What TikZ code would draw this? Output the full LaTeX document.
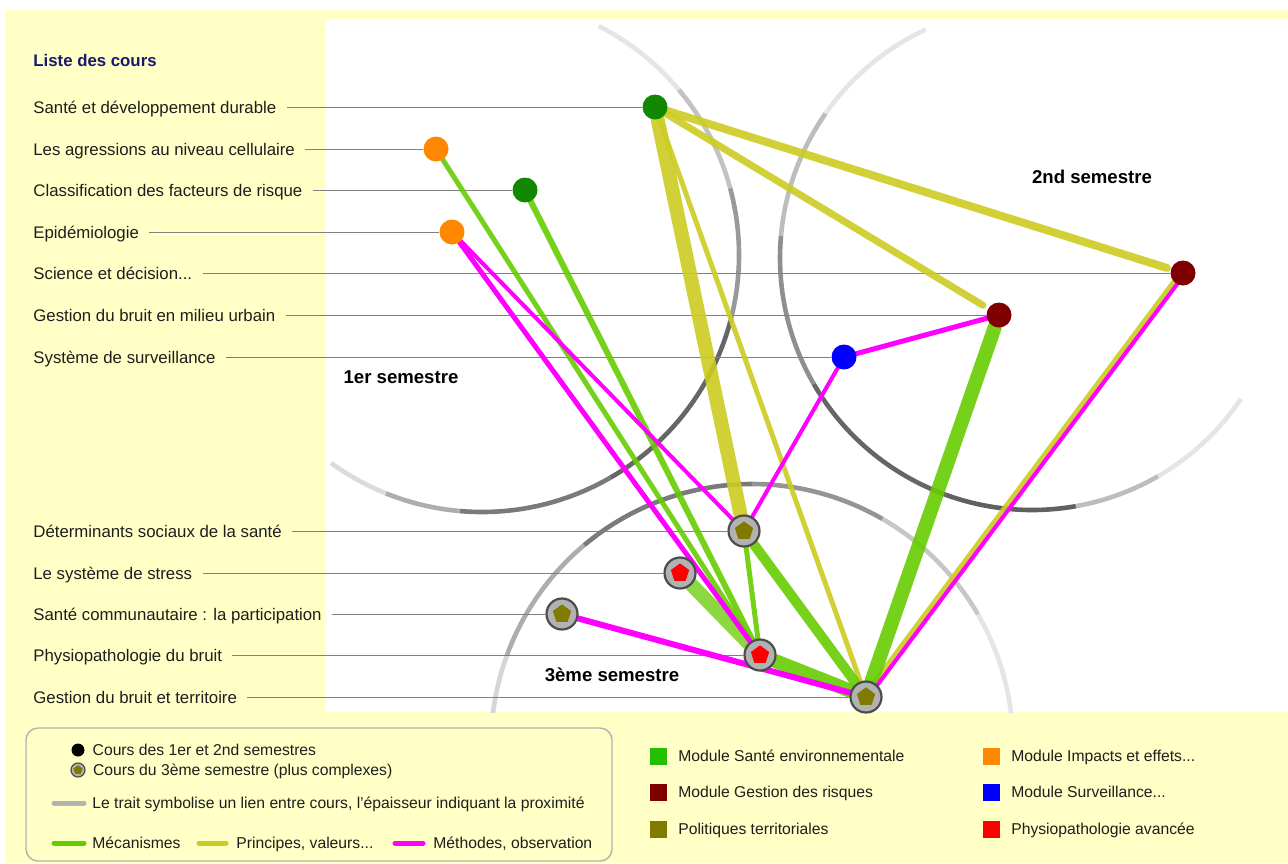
\documentclass[tikz,border=0pt]{standalone}
\usepackage{fontspec}
\setmainfont{Liberation Sans}
\usetikzlibrary{positioning}

\definecolor{paper}{RGB}{255,255,198}
\definecolor{titre}{RGB}{24,24,110}
\definecolor{txt}{RGB}{30,30,30}
\definecolor{vert}{RGB}{18,136,0}
\definecolor{vertclair}{RGB}{34,192,0}
\definecolor{bordeaux}{RGB}{128,0,0}
\definecolor{olivec}{RGB}{128,122,0}
\definecolor{impact}{RGB}{255,136,0}
\definecolor{survbleu}{RGB}{0,0,255}
\definecolor{physrouge}{RGB}{255,0,0}
\definecolor{lienmeca}{RGB}{102,204,0}
\definecolor{lienprin}{RGB}{204,204,34}
\definecolor{lienmeth}{RGB}{255,0,255}
\definecolor{filet}{RGB}{128,128,128}

\pgfdeclarelayer{fond}
\pgfdeclarelayer{liens}
\pgfsetlayers{fond,liens,main}

\tikzset{
	cours/.style={anchor=west, inner xsep=5pt, inner ysep=0pt, text height=6pt, text depth=0pt,
		text=txt, font=\fontsize{8.4}{10}\selectfont},
	legende/.style={anchor=west, inner sep=0pt, text height=5.6pt, text depth=0pt,
		text=txt, font=\fontsize{7.85}{10}\selectfont},
	semtitre/.style={text=black, font=\bfseries\fontsize{9.3}{11}\selectfont},
	sem/.style={circle, fill=#1, inner sep=0pt, minimum size=12.5pt},
	penta radius/.store in=\pentr, penta radius=4.8pt,
	sem3/.style={circle, fill=gray!60, draw=gray!60!black, line width=1.1pt, inner sep=0pt, minimum size=15.5pt,
		path picture={\fill[#1] (path picture bounding box.center) +(90:\pentr) -- +(162:\pentr)
			-- +(234:\pentr) -- +(306:\pentr) -- +(18:\pentr) -- cycle;}},
	carre/.style={rectangle, fill=#1, inner sep=0pt, minimum size=8.5pt},
	filet/.style={draw=filet, line width=0.5pt},
	anneau/.style={line width=2.3pt},
	meca/.style={draw=lienmeca, line width=#1, line cap=round, opacity=.9},
	prin/.style={draw=lienprin, line width=#1, line cap=round, opacity=.9},
	meth/.style={draw=lienmeth, line width=#1, line cap=round}
}

\begin{document}
\begin{tikzpicture}[x=0.5pt, y=-0.5pt]
	\useasboundingbox (0,0) rectangle (1288,863);

	% liste des cours
	\node[cours, text=titre, font=\bfseries\fontsize{8.4}{10}\selectfont] (ltitre) at (23,60) {Liste des cours};
	\node[cours] (lsdd) at (23,107) {Santé et développement durable};
	\node[cours] (lagr) at (23,149) {Les agressions au niveau cellulaire};
	\node[cours] (lcls) at (23,190) {Classification des facteurs de risque};
	\node[cours] (lepi) at (23,232) {Epidémiologie};
	\node[cours] (lsci) at (23,273) {Science et décision...};
	\node[cours] (lgbu) at (23,315) {Gestion du bruit en milieu urbain};
	\node[cours] (lsur) at (23,357) {Système de surveillance};
	\node[cours] (ldet) at (23,531) {Déterminants sociaux de la santé};
	\node[cours] (lstr) at (23,573) {Le système de stress};
	\node[cours] (lcom) at (23,614) {Santé communautaire : la participation};
	\node[cours] (lphy) at (23,655) {Physiopathologie du bruit};
	\node[cours] (lgbt) at (23,697) {Gestion du bruit et territoire};

	% cours des 1er et 2nd semestres
	\node[sem=vert] (sdd) at (655,107) {};
	\node[sem=impact] (agr) at (436,149) {};
	\node[sem=vert] (cls) at (525,190) {};
	\node[sem=impact] (epi) at (452,232) {};
	\node[sem=bordeaux] (sci) at (1183,273) {};
	\node[sem=bordeaux] (gbu) at (999,315) {};
	\node[sem=survbleu] (sur) at (844,357) {};
	% cours du 3eme semestre
	\node[sem3=olivec] (det) at (744,531) {};
	\node[sem3=physrouge] (str) at (680,573) {};
	\node[sem3=olivec] (com) at (562,614) {};
	\node[sem3=physrouge] (phy) at (760,655) {};
	\node[sem3=olivec] (gbt) at (866,697) {};

	\node[semtitre] (s1) at (401,377) {1er semestre};
	\node[semtitre] (s2) at (1092,177) {2nd semestre};
	\node[semtitre] (s3) at (612,675) {3ème semestre};

	\begin{pgfonlayer}{fond}
		\fill[white] (0,0) rectangle (1288,863);
		\fill[paper] (5,10) rectangle (1288,863);
		\fill[white] (326,19) rectangle (1288,712);
		\begin{scope}
			\clip (326,19) rectangle (1288,712);
			\foreach \a/\b/\g in {-63/-40/10, -40/-15/24, -15/15/40, 15/60/60, 60/95/52, 95/112/32, 112/126/14}
				\draw[anneau, black!\g] (482,255) ++(\a:257) arc[start angle=\a, end angle=\b, radius=257];
			\foreach \a/\b/\g in {34/60/10, 60/80/26, 80/110/62, 110/150/60, 150/185/44, 185/215/26, 215/245/10}
				\draw[anneau, black!\g] (1032,258) ++(\a:252) arc[start angle=\a, end angle=\b, radius=252];
			\foreach \a/\b/\g in {180/200/16, 200/230/32, 230/270/52, 270/300/42, 300/330/22, 330/360/10}
				\draw[anneau, black!\g] (752,745) ++(\a:261) arc[start angle=\a, end angle=\b, radius=261];
		\end{scope}
		\foreach \l/\c in {lsdd/sdd, lagr/agr, lcls/cls, lepi/epi, lsci/sci, lgbu/gbu, lsur/sur,
			ldet/det, lstr/str, lcom/com, lphy/phy, lgbt/gbt}
			\draw[filet] (\l.east) -- (\c);
	\end{pgfonlayer}

	\begin{pgfonlayer}{liens}
		% principes, valeurs
		\draw[prin=4pt, shorten >=2pt] (sdd) -- (sci);
		\draw[prin=3.5pt, shorten >=3pt] (sdd) -- (gbu);
		\draw[prin=7pt] (sdd) -- (det);
		\draw[prin=2.5pt] (sdd) -- (gbt);
		\draw[prin=2.5pt] ([xshift=-1.3pt]sci.center) -- ([xshift=-1.3pt]gbt.center);
		% mecanismes
		\draw[meca=2.5pt] (agr) -- (phy);
		\draw[meca=3pt] (cls) -- (phy);
		\draw[meca=2.5pt] (det) -- (phy);
		\draw[meca=5pt] (det) -- (gbt);
		\draw[meca=7pt, opacity=.75] (str) -- (phy);
		\draw[meca=7pt] (phy) -- (gbt);
		\draw[meca=7pt] (gbu) -- (gbt);
		% methodes, observation
		\draw[meth=2.5pt] (epi) -- (phy);
		\draw[meth=2pt] (epi) -- (det);
		\draw[meth=2pt] (sur) -- (det);
		\draw[meth=2.5pt] (sur) -- (gbu);
		\draw[meth=2pt] ([xshift=1.2pt]sci.center) -- ([xshift=1.2pt]gbt.center);
		\draw[meth=3pt] (com) -- (gbt);
	\end{pgfonlayer}

	% legende
	\draw[gray!60, line width=0.7pt, rounded corners=6pt] (26,728) rectangle (612,861);
	\node[sem=black, minimum size=6.5pt] (lpt1) at (78,750) {};
	\node[legende, right=3.7pt of lpt1] (lg1) {Cours des 1er et 2nd semestres};
	\node[sem3=olivec, penta radius=2.4pt, minimum size=7pt, line width=0.6pt] (lpt2) at (78,770) {};
	\node[legende, right=3.5pt of lpt2] (lg2) {Cours du 3ème semestre (plus complexes)};
	\node[legende] (lg3) at (92,803) {Le trait symbolise un lien entre cours, l'épaisseur indiquant la proximité};
	\draw[line width=2.5pt, gray!60, line cap=round] ([xshift=-4pt]lg3.west) -- ++(-30,0);
	\node[legende] (lg4) at (92,843) {Mécanismes};
	\draw[line width=2.5pt, lienmeca, line cap=round] ([xshift=-4pt]lg4.west) -- ++(-30,0);
	\node[legende] (lg5) at (236,843) {Principes, valeurs...};
	\draw[line width=2.5pt, lienprin, line cap=round] ([xshift=-5pt]lg5.west) -- ++(-27,0);
	\node[legende] (lg6) at (433,843) {Méthodes, observation};
	\draw[line width=2.5pt, lienmeth, line cap=round] ([xshift=-5pt]lg6.west) -- ++(-28,0);

	\node[carre=vertclair] (mse) at (658,756) {};
	\node[legende, right=5.5pt of mse] (tmse) {Module Santé environnementale};
	\node[carre=bordeaux] (mgr) at (658,792) {};
	\node[legende, right=5.5pt of mgr] (tmgr) {Module Gestion des risques};
	\node[carre=olivec] (mpt) at (658,829) {};
	\node[legende, right=5.5pt of mpt] (tmpt) {Politiques territoriales};
	\node[carre=impact] (mie) at (991,756) {};
	\node[legende, right=5.5pt of mie] (tmie) {Module Impacts et effets...};
	\node[carre=survbleu] (msu) at (991,792) {};
	\node[legende, right=5.5pt of msu] (tmsu) {Module Surveillance...};
	\node[carre=physrouge] (mpa) at (991,829) {};
	\node[legende, right=5.5pt of mpa] (tmpa) {Physiopathologie avancée};
\end{tikzpicture}
\end{document}
